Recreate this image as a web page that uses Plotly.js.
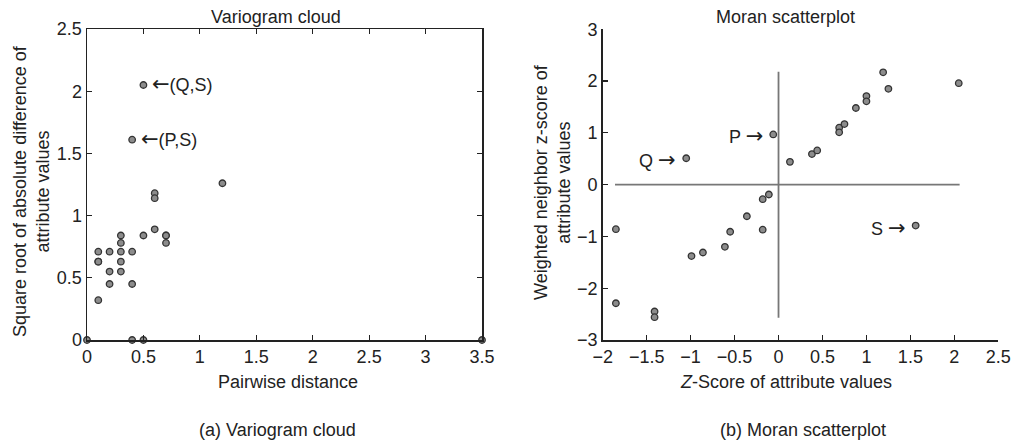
<!DOCTYPE html>
<html>
<head>
<meta charset="utf-8">
<script src="https://cdn.plot.ly/plotly-3.0.1.min.js"></script>
<style>
  html, body { margin: 0; padding: 0; background: #fff; }
  #chart { width: 1011px; height: 443px; }
</style>
</head>
<body>
<div id="chart"></div>
<script>
// Variogram cloud: pairwise distance vs sqrt of absolute attribute difference
const pairDistance = [0.5, 0.4, 1.2, 0.6, 0.6, 0.6, 0.5, 0.7, 0.7, 0.7,
                      0.3, 0.3, 0.3, 0.3, 0.3, 0.1, 0.1, 0.1, 0.2, 0.2, 0.2,
                      0.4, 0.4, 0.1, 0.0, 0.4, 0.5, 3.5];
const sqrtAbsDiff  = [2.05, 1.61, 1.26, 1.18, 1.14, 0.89, 0.84, 0.84, 0.84, 0.78,
                      0.84, 0.78, 0.71, 0.63, 0.55, 0.71, 0.63, 0.63, 0.71, 0.55, 0.45,
                      0.71, 0.45, 0.32, 0.0, 0.0, 0.0, 0.0];

// Moran scatterplot: z-score vs weighted neighbour z-score
const zScore        = [-1.05, -0.06, 0.13, 0.38, 0.44, 0.69, 0.69, 0.75, 0.88, 1.0, 1.0,
                       1.19, 1.25, 2.05, -1.85, -1.85, -1.41, -1.41, -0.99, -0.86,
                       -0.61, -0.36, -0.55, -0.18, -0.11, -0.18, 1.56];
const neighborScore = [0.51, 0.97, 0.44, 0.59, 0.66, 1.10, 1.01, 1.17, 1.48, 1.71, 1.61,
                       2.17, 1.85, 1.96, -0.86, -2.29, -2.45, -2.56, -1.38, -1.31,
                       -1.20, -0.61, -0.91, -0.28, -0.19, -0.87, -0.79];

// Quadrant guide lines through the origin
const hLineX = [-1.86, 2.06], hLineY = [0, 0];
const vLineX = [0, 0],        vLineY = [-2.57, 2.18];

// Point labels
const LEFT_ARROW = '<span style="font-family:DejaVu Sans;font-size:21px">\u2190</span>';
const RIGHT_ARROW = '<span style="font-family:DejaVu Sans;font-size:21px">\u2192</span>';
const cloudLabels = [{x: 0.5, y: 2.05, name: '(Q,S)'}, {x: 0.4, y: 1.61, name: '(P,S)'}];
const moranLabels = [{x: -1.05, y: 0.51, name: 'Q'}, {x: -0.06, y: 0.97, name: 'P'},
                     {x: 1.56, y: -0.79, name: 'S'}];

const FONT = 'Liberation Sans, Arial, Helvetica, sans-serif';
const INK = '#222';
const marker = {size: 6.5, color: '#8c8c8c', line: {color: '#333', width: 1.3}};

const traces = [
  {x: hLineX, y: hLineY, xaxis: 'x2', yaxis: 'y2', mode: 'lines',
   line: {color: '#777', width: 1.8}, hoverinfo: 'skip'},
  {x: vLineX, y: vLineY, xaxis: 'x2', yaxis: 'y2', mode: 'lines',
   line: {color: '#777', width: 1.8}, hoverinfo: 'skip'},
  {x: pairDistance, y: sqrtAbsDiff, xaxis: 'x', yaxis: 'y', type: 'scatter',
   mode: 'markers', marker: marker, cliponaxis: false},
  {x: zScore, y: neighborScore, xaxis: 'x2', yaxis: 'y2', type: 'scatter',
   mode: 'markers', marker: marker, cliponaxis: false}
];

const tickFont = {family: FONT, size: 18, color: INK};
const textFont = {family: FONT, size: 18, color: INK};

const annotations = [];
cloudLabels.forEach(a => annotations.push({
  xref: 'x', yref: 'y', x: a.x, y: a.y, text: LEFT_ARROW + a.name, showarrow: false,
  xanchor: 'left', xshift: 7, yshift: 1, font: textFont
}));
moranLabels.forEach(a => annotations.push({
  xref: 'x2', yref: 'y2', x: a.x, y: a.y, text: a.name + ' ' + RIGHT_ARROW, showarrow: false,
  xanchor: 'right', xshift: -8, yshift: -2, font: textFont
}));

// Panel titles, axis titles and captions, placed in pixels on the page
const W = 1011, H = 443;
[
  {x: 276, y: 17, text: 'Variogram cloud'},
  {x: 785, y: 17, text: 'Moran scatterplot'},
  {x: 288, y: 382, text: 'Pairwise distance'},
  {x: 786, y: 382, text: '<i>Z</i>-Score of attribute values'},
  {x: 31, y: 191, text: 'Square root of absolute difference of<br>attribute values', angle: -90},
  {x: 552, y: 182, text: 'Weighted neighbor z-score of<br>attribute values', angle: -90},
  {x: 277, y: 430, text: '(a) Variogram cloud'},
  {x: 803, y: 430, text: '(b) Moran scatterplot'}
].forEach(t => annotations.push({
  xref: 'paper', yref: 'paper', x: t.x / W, y: 1 - t.y / H, text: t.text,
  showarrow: false, xanchor: 'center', yanchor: 'middle',
  textangle: t.angle || 0, font: textFont
}));

const axisStyle = {
  showgrid: false, zeroline: false, showline: true, linecolor: INK, linewidth: 1.5,
  ticks: 'inside', ticklen: 5, tickcolor: INK, tickwidth: 1.2, tickfont: tickFont
};

const layout = {
  width: W, height: H,
  margin: {l: 0, r: 0, t: 0, b: 0},
  paper_bgcolor: '#fff', plot_bgcolor: '#fff',
  showlegend: false,
  font: {family: FONT, color: INK},
  xaxis: Object.assign({}, axisStyle, {
    domain: [87 / W, 482 / W], range: [0, 3.5], dtick: 0.5, mirror: 'ticks', anchor: 'y'
  }),
  yaxis: Object.assign({}, axisStyle, {
    domain: [(H - 340) / H, (H - 29) / H], range: [0, 2.5], dtick: 0.5, mirror: 'ticks', anchor: 'x'
  }),
  xaxis2: Object.assign({}, axisStyle, {
    domain: [602.7 / W, 998.3 / W], range: [-2, 2.5], dtick: 0.5, anchor: 'y2'
  }),
  yaxis2: Object.assign({}, axisStyle, {
    domain: [(H - 340) / H, (H - 29.3) / H], range: [-3, 3], dtick: 1, anchor: 'x2'
  }),
  annotations: annotations
};

Plotly.newPlot('chart', traces, layout, {displayModeBar: false, staticPlot: true});
</script>
</body>
</html>
